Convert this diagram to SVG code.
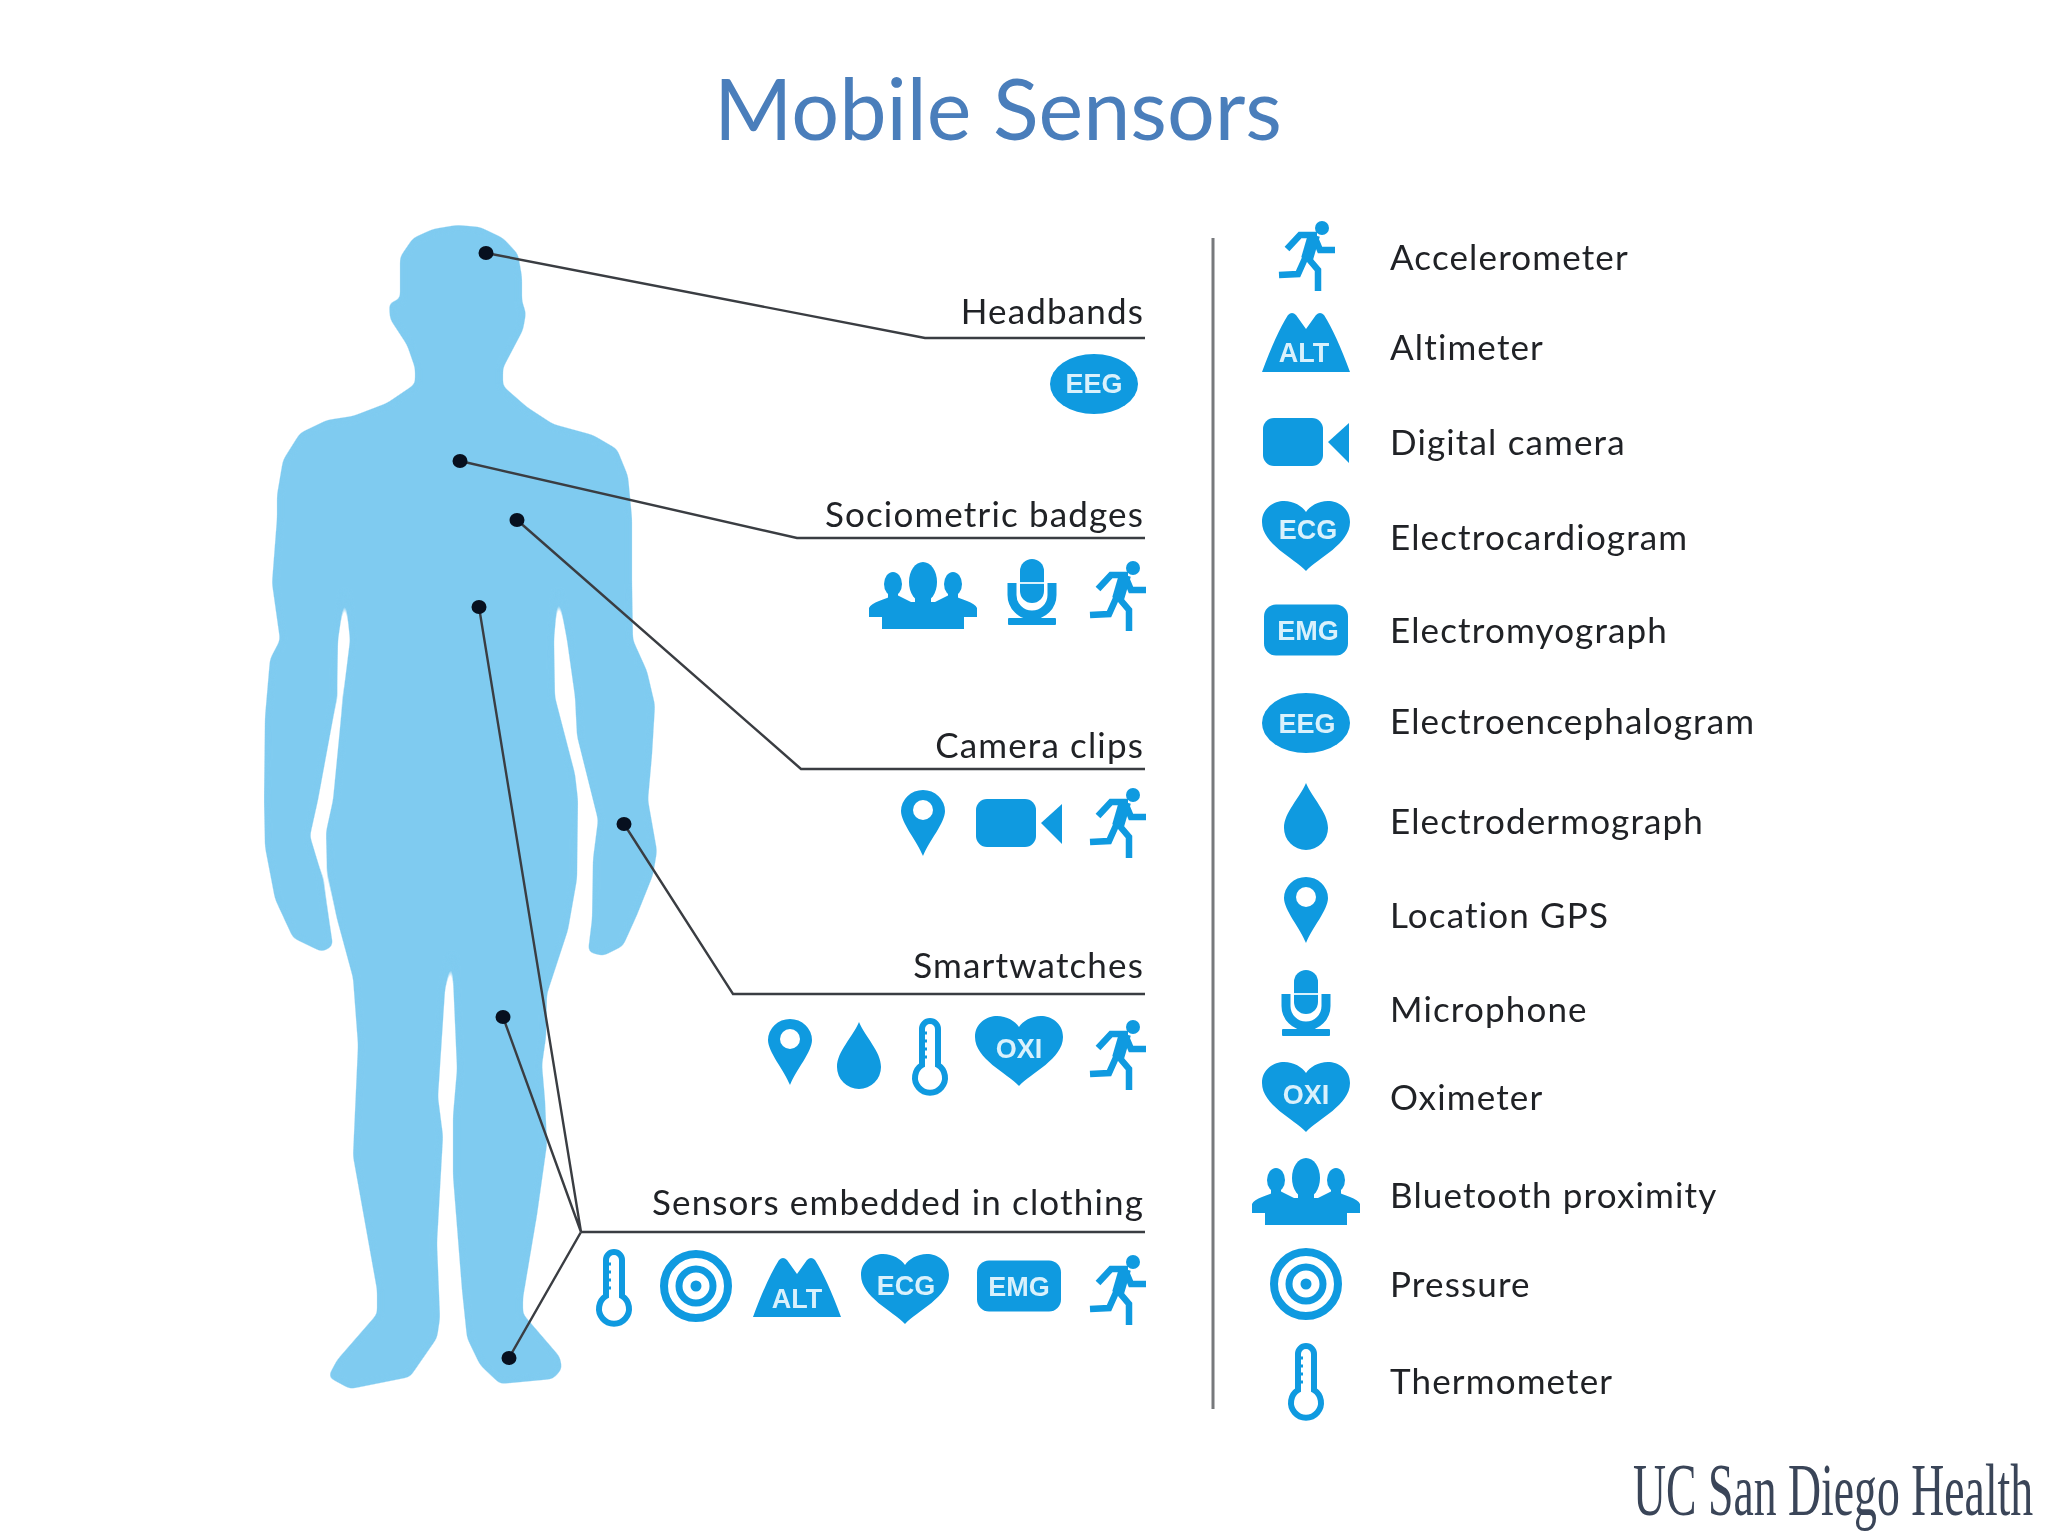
<svg xmlns="http://www.w3.org/2000/svg" xmlns:xlink="http://www.w3.org/1999/xlink" width="2048" height="1536" viewBox="0 0 2048 1536">
<style>
.lab{font-family:"Lato","Liberation Sans",sans-serif;font-size:35px;letter-spacing:1.15px;fill:#202226}
.end{text-anchor:end}
.ico{fill:#0f9ae0}
.st{fill:none;stroke:#0f9ae0;stroke-linecap:butt;stroke-linejoin:miter}
.badge{font-family:"Liberation Sans",Arial,sans-serif;font-weight:700;font-size:27px;fill:#d9f1fc;text-anchor:middle}
.lead{fill:none;stroke:#3a3d42;stroke-width:2.4}
.dot{fill:#07101f}
</style>
<defs>
<filter id="smooth" x="-5%" y="-5%" width="110%" height="110%" color-interpolation-filters="sRGB"><feGaussianBlur stdDeviation="3"/><feComponentTransfer><feFuncA type="linear" slope="7" intercept="-3"/></feComponentTransfer></filter>
<filter id="soft" x="0" y="0" width="100%" height="100%" color-interpolation-filters="sRGB"><feGaussianBlur stdDeviation="0.700"/></filter>
<g id="i-run"><circle class="ico" cx="16" cy="-28" r="7"/><path class="st" stroke-width="6.500" d="M-19,-7 L-6,-21 L11,-21 M9,-18 L14,-6 L29,-6 M1,1 L12,14 L12,35 M1,-2 L-8,18 L-27,19"/><path class="st" stroke-width="12" d="M8,-21 L1,3"/></g>
<path id="i-alt" class="ico" d="M-44,30 Q-30,-8 -18,-27 Q-14,-31 -10,-27 L0,-13 L10,-27 Q14,-31 18,-27 Q30,-8 44,30 Z"/>
<g id="i-cam"><rect class="ico" x="-43" y="-24" width="60" height="48" rx="11"/><path class="ico" d="M22,0 L43,-19 V21 Z"/></g>
<path id="i-heart" class="ico" d="M0,35 C-12,22 -44,8 -44,-14 C-44,-28 -32,-35 -22,-35 C-12,-35 -4,-30 0,-24 C4,-30 12,-35 22,-35 C32,-35 44,-28 44,-14 C44,8 12,22 0,35 Z"/>
<rect id="i-emg" class="ico" x="-42" y="-25.500" width="84" height="51" rx="12"/>
<ellipse id="i-eeg" class="ico" rx="44" ry="30"/>
<path id="i-drop" class="ico" d="M0,-33 C6,-18 22,-4 22,12 A22,22 0 0 1 -22,12 C-22,-4 -6,-18 0,-33 Z"/>
<g id="i-pin"><path class="ico" d="M0,33 C-6,18 -22,0 -22,-12 A22,21 0 0 1 22,-12 C22,0 6,18 0,33 Z"/><circle cx="0" cy="-13" r="10" fill="#fff"/></g>
<g id="i-mic"><rect class="ico" x="-12" y="-33" width="24" height="44" rx="12"/><path d="M-12,-9 H12" stroke="#d9f1fc" stroke-width="2"/><path class="st" stroke-width="9" d="M-20,-9 V3 A20,20 0 0 0 20,3 V-9"/><rect class="ico" x="-3" y="22" width="6" height="8"/><rect class="ico" x="-24" y="26" width="48" height="7" rx="1"/></g>
<g id="i-ppl"><path class="ico" d="M-41,35 V23 H-54 V14 C-52,8 -38,6 -28,0 L-12,8 H12 L28,0 C38,6 52,8 54,14 V23 H41 V35 Z"/><ellipse class="ico" cx="0" cy="-12" rx="14" ry="20"/><rect class="ico" x="-8" y="-5" width="16" height="16"/><ellipse class="ico" cx="-30" cy="-10" rx="9" ry="12"/><ellipse class="ico" cx="30" cy="-10" rx="9" ry="12"/><rect class="ico" x="-35" y="-4" width="10" height="8"/><rect class="ico" x="25" y="-4" width="10" height="8"/></g>
<g id="i-prs"><circle class="st" r="32" stroke-width="8"/><circle class="st" r="17" stroke-width="7"/><circle class="ico" r="5.500"/></g>
<g id="i-thm"><path class="st" stroke-width="6" d="M-8,-26 A8,8 0 0 1 8,-26 V10 A15,15 0 1 1 -8,10 Z" fill="#fff"/><path class="st" stroke-width="3" d="M-8,-22 H-3 M-8,-14 H-3 M-8,-6 H-3 M-8,2 H-3"/></g>
</defs>
<rect width="2048" height="1536" fill="#fff"/>
<g filter="url(#soft)">
<text id="title" x="998" y="140" font-family="Lato,'Liberation Sans',sans-serif" font-size="84.500" fill="#4a7ebb" text-anchor="middle">Mobile Sensors</text>
<path id="body" filter="url(#smooth)" fill="#7fcbf0" d="M457,225 L480,227 L503,238 L518,254 L522,277 L522,301 L526,313 L523,330 L513,349 L503,368 L503,386 L527,407 L553,424 L593,435 L617,449 L628,476 L632,518 L632,583 L633,640 L647,671 L655,705 L652,755 L648,800 L657,851 L653,875 L637,915 L623,946 L603,956 L588,952 L592,919 L593,859 L598,820 L593,800 L577,736 L575,697 L567,640 L558,592 L554,640 L555,697 L562,724 L575,774 L578,800 L577,879 L568,930 L547,994 L546,1037 L542,1065 L545,1100 L547,1144 L537,1215 L523,1298 L523,1314 L560,1357 L562,1369 L553,1379 L500,1384 L480,1365 L467,1338 L462,1290 L453,1176 L453,1116 L457,1069 L452,955 L445,990 L438,1097 L443,1136 L437,1243 L440,1318 L437,1338 L410,1377 L350,1389 L328,1377 L337,1360 L377,1314 L377,1290 L353,1156 L358,1045 L353,978 L337,919 L327,871 L326,832 L333,800 L343,697 L350,640 L345,592 L338,640 L337,697 L318,800 L310,836 L323,879 L333,946 L322,952 L293,938 L275,899 L265,847 L264,800 L265,717 L270,659 L280,640 L272,583 L277,518 L277,495 L283,460 L300,433 L327,420 L353,416 L387,403 L415,384 L415,368 L407,345 L390,319 L389,303 L400,299 L400,257 L413,238 L433,229 Z"/>
<g id="connectors">
<path class="lead" d="M486,253 L925,338 H1145"/>
<path class="lead" d="M460,461 L797,538 H1145"/>
<path class="lead" d="M517,520 L801,769 H1145"/>
<path class="lead" d="M624,824 L733,994 H1145"/>
<path class="lead" d="M581,1232 H1145 M479,607 L581,1232 M503,1017 L581,1232 M509,1358 L581,1232"/>
<path d="M1213,238 V1409" stroke="#77797c" stroke-width="3"/>
<ellipse class="dot" cx="486" cy="253" rx="7.500" ry="7"/><ellipse class="dot" cx="460" cy="461" rx="7.500" ry="7"/><ellipse class="dot" cx="517" cy="520" rx="7.500" ry="7"/><ellipse class="dot" cx="479" cy="607" rx="7.500" ry="7"/><ellipse class="dot" cx="624" cy="824" rx="7.500" ry="7"/><ellipse class="dot" cx="503" cy="1017" rx="7.500" ry="7"/><ellipse class="dot" cx="509" cy="1358" rx="7.500" ry="7"/>
</g>
<g id="headbands"><text class="lab end" x="1144" y="324">Headbands</text><use href="#i-eeg" x="1094" y="384"/><text class="badge" x="1094" y="393">EEG</text></g>
<g id="sociometric"><text class="lab end" x="1144" y="527">Sociometric badges</text><use href="#i-ppl" x="923" y="594"/><use href="#i-mic" x="1032" y="592"/><use href="#i-run" x="1117" y="596"/></g>
<g id="camera-clips"><text class="lab end" x="1144" y="758">Camera clips</text><use href="#i-pin" x="923" y="823"/><use href="#i-cam" x="1019" y="823"/><use href="#i-run" x="1117" y="823"/></g>
<g id="smartwatches"><text class="lab end" x="1144" y="978">Smartwatches</text><use href="#i-pin" x="790" y="1052"/><use href="#i-drop" x="859" y="1055"/><use href="#i-thm" x="930" y="1055"/><use href="#i-heart" x="1019" y="1051"/><text class="badge" x="1019" y="1058">OXI</text><use href="#i-run" x="1117" y="1055"/></g>
<g id="clothing"><text class="lab end" x="1144" y="1215">Sensors embedded in clothing</text><use href="#i-thm" x="614" y="1286"/><use href="#i-prs" x="696" y="1286"/><use href="#i-alt" x="797" y="1287"/><text class="badge" x="797" y="1308">ALT</text><use href="#i-heart" x="905" y="1289"/><text class="badge" x="906" y="1295">ECG</text><use href="#i-emg" x="1019" y="1286"/><text class="badge" x="1019" y="1296">EMG</text><use href="#i-run" x="1117" y="1290"/></g>
<g id="accelerometer"><use href="#i-run" x="1306" y="256"/><text class="lab" x="1390" y="270">Accelerometer</text></g>
<g id="altimeter"><use href="#i-alt" x="1306" y="342"/><text class="badge" x="1304" y="362">ALT</text><text class="lab" x="1390" y="360">Altimeter</text></g>
<g id="digital-camera"><use href="#i-cam" x="1306" y="442"/><text class="lab" x="1390" y="455">Digital camera</text></g>
<g id="electrocardiogram"><use href="#i-heart" x="1306" y="536"/><text class="badge" x="1308" y="539">ECG</text><text class="lab" x="1390" y="550">Electrocardiogram</text></g>
<g id="electromyograph"><use href="#i-emg" x="1306" y="630"/><text class="badge" x="1308" y="640">EMG</text><text class="lab" x="1390" y="643">Electromyograph</text></g>
<g id="electroencephalogram"><use href="#i-eeg" x="1306" y="723"/><text class="badge" x="1307" y="733">EEG</text><text class="lab" x="1390" y="734">Electroencephalogram</text></g>
<g id="electrodermograph"><use href="#i-drop" x="1306" y="816"/><text class="lab" x="1390" y="834">Electrodermograph</text></g>
<g id="location-gps"><use href="#i-pin" x="1306" y="910"/><text class="lab" x="1390" y="928">Location GPS</text></g>
<g id="microphone"><use href="#i-mic" x="1306" y="1003"/><text class="lab" x="1390" y="1022">Microphone</text></g>
<g id="oximeter"><use href="#i-heart" x="1306" y="1097"/><text class="badge" x="1306" y="1104">OXI</text><text class="lab" x="1390" y="1110">Oximeter</text></g>
<g id="bluetooth-proximity"><use href="#i-ppl" x="1306" y="1190"/><text class="lab" x="1390" y="1208">Bluetooth proximity</text></g>
<g id="pressure"><use href="#i-prs" x="1306" y="1284"/><text class="lab" x="1390" y="1297">Pressure</text></g>
<g id="thermometer"><use href="#i-thm" x="1306" y="1380"/><text class="lab" x="1390" y="1394">Thermometer</text></g>
<text id="logo" transform="translate(1633,1515) scale(.61,1)" font-family="'Liberation Serif',serif" font-size="75" fill="#3a4558">UC San Diego Health</text>
</g>
</svg>
